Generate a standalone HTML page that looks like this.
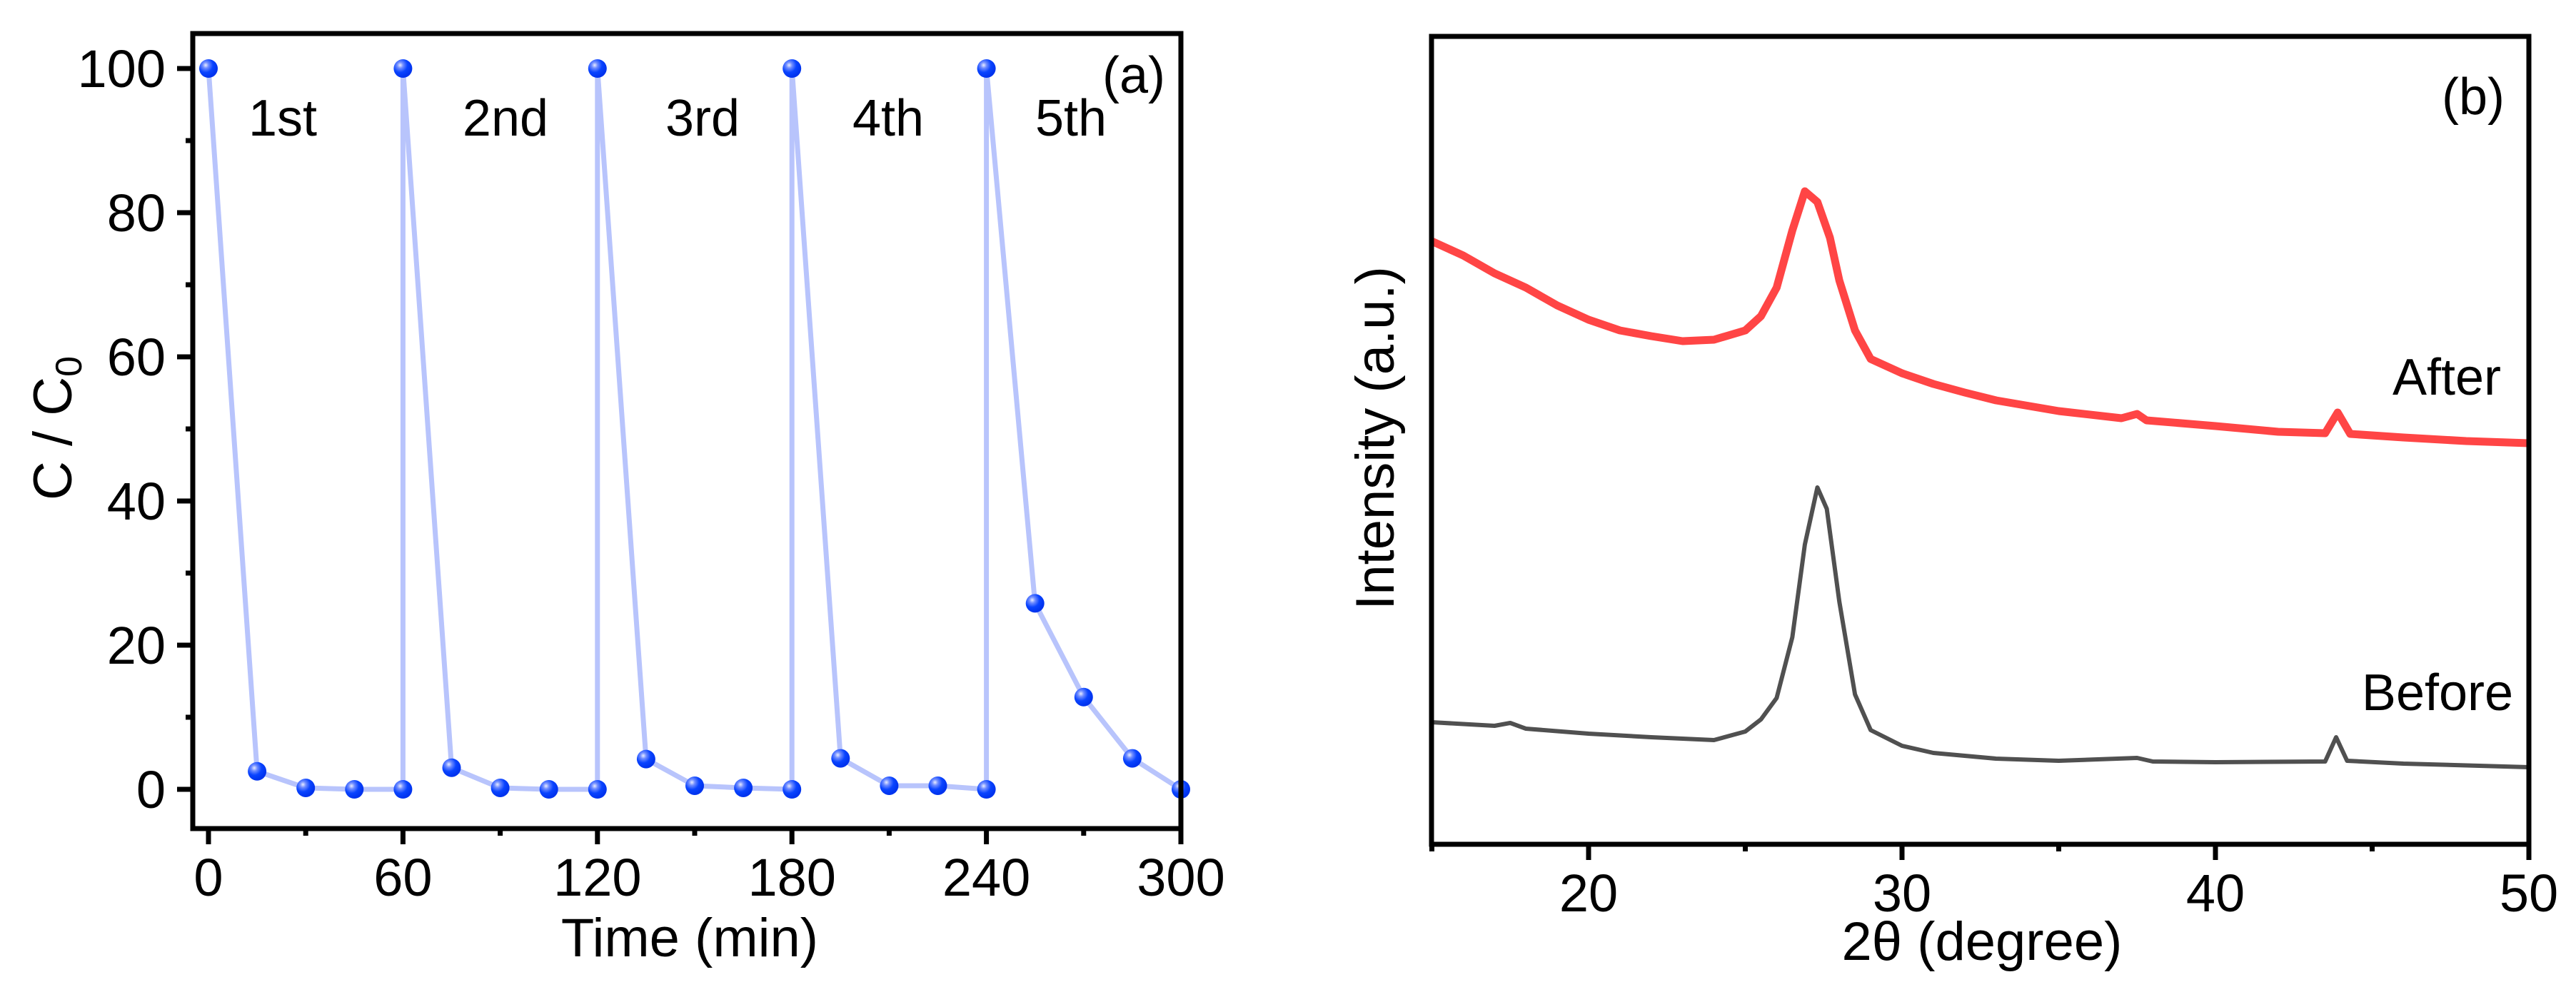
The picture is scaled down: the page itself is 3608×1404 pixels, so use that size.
<!DOCTYPE html>
<html><head><meta charset="utf-8"><style>
html,body{margin:0;padding:0;background:#fff;}
svg{display:block;font-family:"Liberation Sans",Arial,sans-serif;}
</style></head><body>
<svg id="fig" width="3608" height="1404" viewBox="0 0 3608 1404" xmlns="http://www.w3.org/2000/svg">
<rect width="3608" height="1404" fill="#fff"/>
<g id="pa"></g>
<g id="pb"></g>
</svg>
<script>
// Panel (a) data
const timeMin = [0,15,30,45,60,60,75,90,105,120,120,135,150,165,180,180,195,210,225,240,240,255,270,285,300];
const ratioC = [100,2.5,0.2,0,0,100,3,0.2,0,0,100,4.2,0.5,0.2,0,100,4.3,0.5,0.5,0,100,25.8,12.8,4.3,0];
const xTicksA = [0,60,120,180,240,300];
const yTicksA = [0,20,40,60,80,100];
const cycleLabels = ["1st","2nd","3rd","4th","5th"];
// Panel (b) data
const twoTheta = [15,15.5,16,17,18,19,20,21,22,23,24,25,25.5,26,26.5,26.9,27.3,27.7,28,28.5,29,30,31,32,33,35,37,37.5,37.8,40,42,43.5,43.9,44.3,46,48,50];
const afterI = [845,835,825,800,780,755,735,720,712,705,707,720,740,780,860,915,900,850,790,720,680,660,645,633,622,607,597,603,594,586,578,576,605,575,570,565,562];
const thetaB = [15,17,17.5,18,20,22,24,25,25.5,26,26.5,26.9,27.3,27.6,28,28.5,29,30,31,33,35,37.5,38,40,43.5,43.85,44.2,46,50];
const beforeI = [171,166,170,162,155,150,146,158,175,205,290,420,500,470,340,210,160,138,128,120,117,121,116,115,116,150,117,113,108];
const xTicksB = [20,30,40,50];

const NS="http://www.w3.org/2000/svg";
function mk(parent,tag,attrs){const e=document.createElementNS(NS,tag);for(const k in attrs)e.setAttribute(k,attrs[k]);parent.appendChild(e);return e;}

// ---------- Panel A ----------
const pa=document.getElementById('pa');
const AL=270,AR=1654,AT=47,AB=1161;
const xA=t=>292+t*(1654-292)/300;
const yA=v=>1106-v*(1106-96)/100;
const defs=mk(pa,'defs',{});
const rg=mk(defs,'radialGradient',{id:'ball',cx:'0.35',cy:'0.32',r:'0.65'});
mk(rg,'stop',{offset:'0','stop-color':'#e8ecff'});
mk(rg,'stop',{offset:'0.25','stop-color':'#6f8cff'});
mk(rg,'stop',{offset:'0.6','stop-color':'#0a44ff'});
mk(rg,'stop',{offset:'1','stop-color':'#0033ee'});
let pts=timeMin.map((t,i)=>xA(t)+','+yA(ratioC[i])).join(' ');
const lineA=mk(pa,'polyline',{points:pts,fill:'none',stroke:'#b8c4fc','stroke-width':7,'stroke-linejoin':'round'});


timeMin.forEach((t,i)=>{
  const c=mk(pa,'circle',{cx:xA(t),cy:yA(ratioC[i]),r:13,fill:'url(#ball)'});
  
  
});
const frameA=mk(pa,'rect',{x:AL,y:AT,width:AR-AL,height:AB-AT,fill:'none',stroke:'#000','stroke-width':7});


for(let t=0;t<=300;t+=30){
  const major=t%60===0;
  const l=mk(pa,'line',{x1:xA(t),x2:xA(t),y1:AB,y2:AB+(major?22:10),stroke:'#000','stroke-width':7});
  
  
}
xTicksA.forEach(t=>{
  const tx=mk(pa,'text',{x:xA(t),y:1255,'font-size':74,'text-anchor':'middle'});tx.textContent=t;
  
  
});
for(let v=0;v<=100;v+=10){
  const major=v%20===0;
  const l=mk(pa,'line',{x1:AL,x2:AL-(major?22:10),y1:yA(v),y2:yA(v),stroke:'#000','stroke-width':7});
  
  
}
yTicksA.forEach(v=>{
  const tx=mk(pa,'text',{x:232,y:yA(v)+26,'font-size':74,'text-anchor':'end'});tx.textContent=v;
  
  
});
const clx=[396,708,984,1244,1500];
cycleLabels.forEach((s,i)=>{
  const tx=mk(pa,'text',{x:clx[i],y:190,'font-size':72,'text-anchor':'middle'});tx.textContent=s;
  
  
});
</script>
<script>
// static labels panel A
(function(){
const pa=document.getElementById('pa');
pa.insertAdjacentHTML('beforeend',
 '<text x="1588" y="130" font-size="72" text-anchor="middle">(a)</text>'+
 '<text x="966" y="1340" font-size="76" text-anchor="middle">Time (min)</text>'+
 '<text transform="translate(100,600) rotate(-90)" font-size="76" text-anchor="middle">C / C<tspan font-size="52" dy="14">0</tspan></text>');
})();
// ---------- Panel B ----------
const pb=document.getElementById('pb');
const BL=2005,BR=3542,BT=51,BB=1183;
const xB=t=>2225+(t-20)*(3542-2225)/30;
const yB=v=>BB-v;
const aLine=mk(pb,'polyline',{points:twoTheta.map((t,i)=>xB(t)+','+yB(afterI[i])).join(' '),fill:'none',stroke:'#ff4545','stroke-width':11,'stroke-linejoin':'round'});


const bLine=mk(pb,'polyline',{points:thetaB.map((t,i)=>xB(t)+','+yB(beforeI[i])).join(' '),fill:'none',stroke:'#505050','stroke-width':6,'stroke-linejoin':'round'});


const frameB=mk(pb,'rect',{x:BL,y:BT,width:BR-BL,height:BB-BT,fill:'none',stroke:'#000','stroke-width':7});


for(let t=15;t<=50;t+=5){
  const major=t%10===0;
  const l=mk(pb,'line',{x1:xB(t),x2:xB(t),y1:BB,y2:BB+(major?22:10),stroke:'#000','stroke-width':7});
  
  
}
xTicksB.forEach(t=>{
  const tx=mk(pb,'text',{x:xB(t),y:1277,'font-size':74,'text-anchor':'middle'});tx.textContent=t;
  
  
});
pb.insertAdjacentHTML('beforeend',
 '<text x="3464" y="160" font-size="72" text-anchor="middle">(b)</text>'+
 '<text x="3427" y="553" font-size="72" text-anchor="middle">After</text>'+
 '<text x="3414" y="995" font-size="72" text-anchor="middle">Before</text>'+
 '<text x="2776" y="1345" font-size="76" text-anchor="middle">2θ (degree)</text>'+
 '<text transform="translate(1952,614) rotate(-90)" font-size="76" text-anchor="middle">Intensity (a.u.)</text>');
</script>
</body></html>
